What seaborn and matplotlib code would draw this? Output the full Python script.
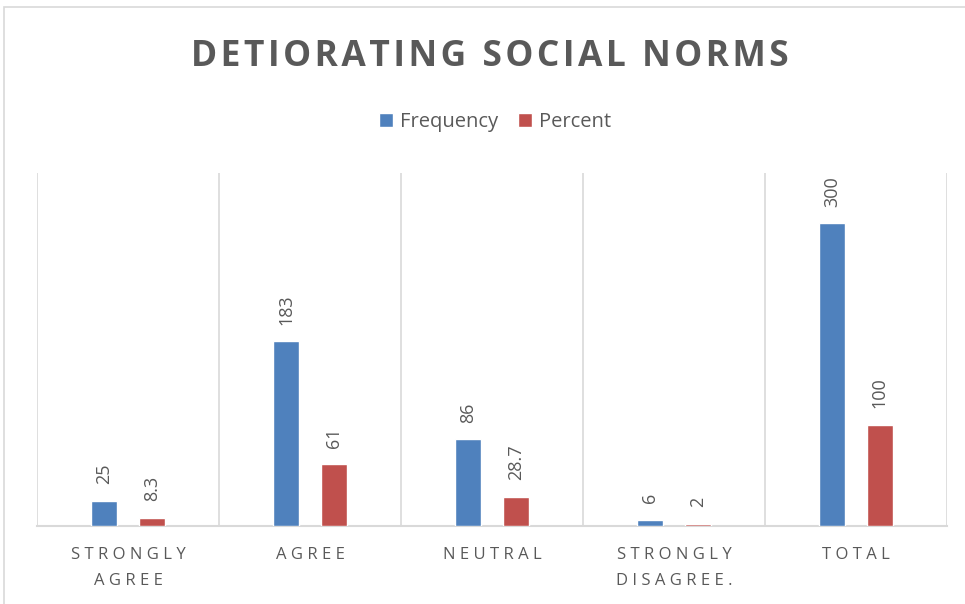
import matplotlib
matplotlib.use("Agg")
import matplotlib.pyplot as plt
from matplotlib.patches import Rectangle
import pandas as pd
import seaborn as sns

categories = ["STRONGLY\nAGREE", "AGREE", "NEUTRAL", "STRONGLY\nDISAGREE.", "TOTAL"]
frequency = [25, 183, 86, 6, 300]
percent = [8.3, 61, 28.7, 2, 100]
series_names = ["Frequency", "Percent"]
colors = ["#4F81BD", "#C0504D"]
title = "DETIORATING SOCIAL NORMS"

df = pd.DataFrame({
    "category": categories * 2,
    "series": [series_names[0]] * len(categories) + [series_names[1]] * len(categories),
    "value": frequency + percent,
})

sns.set_theme(style="white")
plt.rcParams["font.family"] = ["Open Sans", "DejaVu Sans"]
text_gray = "#595959"
line_gray = "#D9D9D9"

fig = plt.figure(figsize=(9.65, 6.04), dpi=100)
ax = fig.add_axes([37 / 965, 78 / 604, 910 / 965, 353 / 604])

sns.barplot(data=df, x="category", y="value", hue="series", order=categories,
            hue_order=series_names, palette=colors, width=0.52, gap=0.45,
            saturation=1, ax=ax, legend=True)

ax.set_xlim(-0.5, len(categories) - 0.5)
ax.set_ylim(0, 350)
ax.set_xlabel("")
ax.set_ylabel("")
ax.set_yticks([])


def spaced(s, sep=" "):
    """Letter-space each line of a label."""
    return "\n".join(sep.join(line) for line in s.split("\n"))


ax.set_xticks(range(len(categories)))
ax.set_xticklabels([spaced(c) for c in categories], fontsize=12, color=text_gray,
                   linespacing=1.85, va="top")
ax.tick_params(axis="x", length=0, pad=15)

# category separators
for xs in [i - 0.5 for i in range(len(categories) + 1)]:
    ax.axvline(xs, color=line_gray, lw=1.2, zorder=0)

for side in ["top", "right", "left"]:
    ax.spines[side].set_visible(False)
ax.spines["bottom"].set_color(line_gray)
ax.spines["bottom"].set_linewidth(1.5)
ax.spines["bottom"].set_zorder(0.5)

# rotated value labels above bars
for container in ax.containers:
    for bar, val in zip(container.patches, container.datavalues):
        bar.set_zorder(2)
        ax.annotate(f"{val:g}", (bar.get_x() + bar.get_width() / 2, bar.get_height()),
                    xytext=(0, 12), textcoords="offset points", rotation=90,
                    ha="center", va="bottom", fontsize=13, color=text_gray)

handles, labels = ax.get_legend_handles_labels()
ax.legend_.remove()
fig.legend(handles, labels, loc="center", bbox_to_anchor=(495 / 965, 1 - 122 / 604),
           ncol=2, frameon=False, fontsize=14.5, handlelength=0.7, handleheight=0.7,
           handletextpad=0.35, columnspacing=1.0, labelcolor=text_gray)

fig.text(490 / 965, 1 - 57 / 604, spaced(title, "\u200a"), ha="center", va="center",
         fontsize=25.5, fontweight="bold", color=text_gray)

# chart border
fig.patches.append(Rectangle((4 / 965, -0.05), 1.2, 1 - 7 / 604 + 0.05,
                             transform=fig.transFigure, fill=False,
                             edgecolor=line_gray, lw=1.2))

fig.savefig("out.png", dpi=100)
